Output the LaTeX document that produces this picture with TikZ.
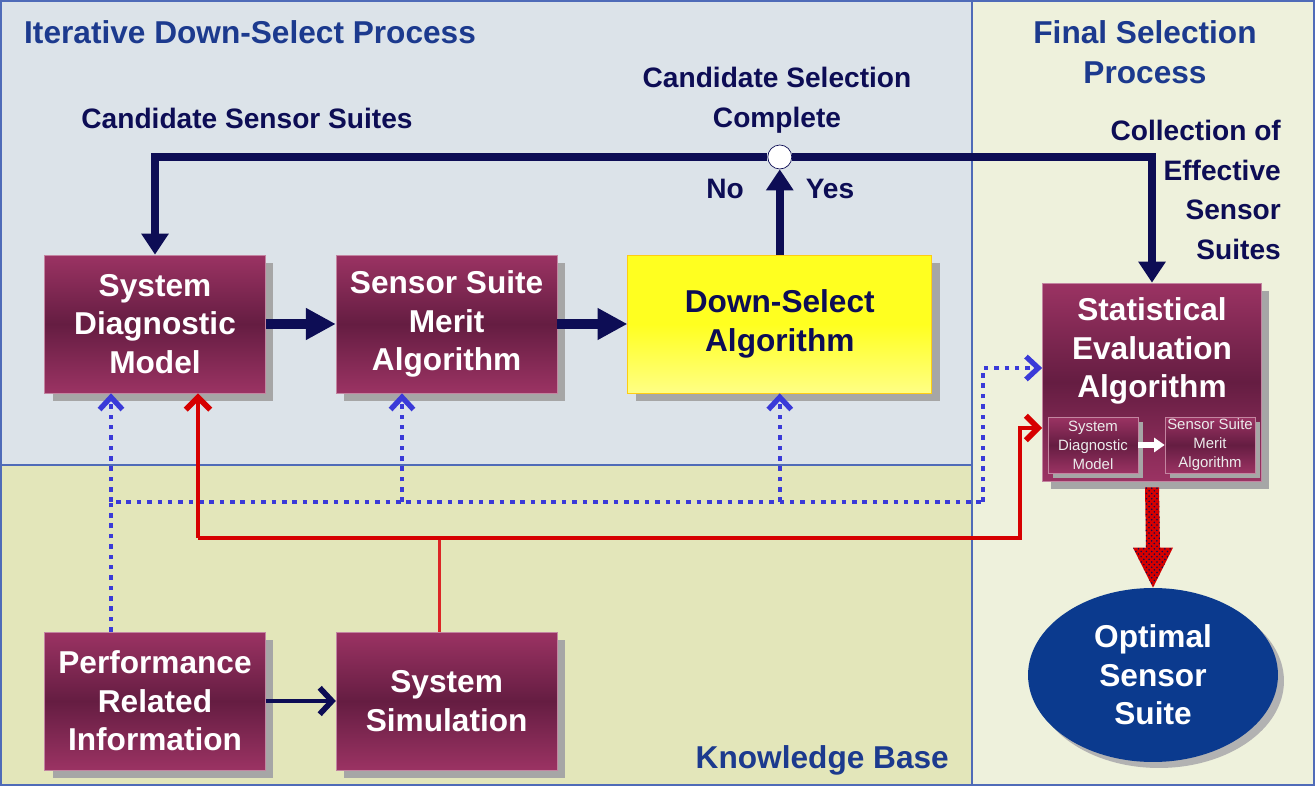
\documentclass[tikz,border=0pt]{standalone}
\usepackage{fontspec}
\setmainfont{Liberation Sans}
\usepackage{xcolor}
\usepackage{tikz}
\usetikzlibrary{shapes,arrows.meta,positioning,calc,shadows,patterns}

\definecolor{panelblue}{HTML}{DCE3E9}
\definecolor{panelolive}{HTML}{E3E6BA}
\definecolor{panelpale}{HTML}{EEF1DC}
\definecolor{framecol}{HTML}{4F6BB8}
\definecolor{navyink}{HTML}{0D0D55}
\definecolor{titleblue}{HTML}{1C3A8E}
\definecolor{plumlight}{HTML}{9B3363}
\definecolor{plumdark}{HTML}{651D42}
\definecolor{dotblue}{HTML}{3A3AD8}
\definecolor{linkred}{HTML}{D60000}
\definecolor{goalblue}{HTML}{0B3A8E}
\definecolor{gold}{HTML}{FFFF20}

\begin{document}
\begin{tikzpicture}[
    x=0.02cm, y=-0.02cm,
    node distance=1.4cm,
    block/.style={rectangle, draw=plumlight!60!white, thin, top color=plumlight, bottom color=plumlight, middle color=plumdark, minimum width=4.42cm, minimum height=2.76cm, text=white, align=center, font=\fontsize{18}{22}\selectfont\bfseries, drop shadow={shadow xshift=0.16cm, shadow yshift=-0.16cm, fill=gray!70, opacity=1}},
    goldblock/.style={block, draw=gold!60!orange, top color=gold, bottom color=gold!55!white, middle color=gold, minimum width=6.08cm, text=navyink},
    miniblock/.style={rectangle, draw=plumlight!60!white, thin, top color=plumlight, bottom color=plumlight, middle color=plumdark, minimum width=1.8cm, minimum height=1.12cm, inner sep=1pt, text=gray!15, align=center, font=\fontsize{8.5}{10.8}\selectfont, drop shadow={shadow xshift=0.1cm, shadow yshift=-0.1cm, fill=gray!70, opacity=1}},
    boxtext/.style={text=white, align=center, font=\fontsize{18}{22}\selectfont\bfseries},
    goal/.style={ellipse, fill=goalblue, minimum width=5cm, minimum height=3.48cm, text=white, align=center, font=\fontsize{18}{22}\selectfont\bfseries, drop shadow={shadow xshift=0.12cm, shadow yshift=-0.12cm, fill=gray!60, opacity=1}},
    junction/.style={circle, draw=navyink, fill=white, minimum size=0.48cm, inner sep=0pt},
    note/.style={text=navyink, align=center, font=\fontsize{16}{22.5}\selectfont\bfseries},
    heading/.style={text=titleblue, align=center, font=\fontsize{18}{22.5}\selectfont\bfseries},
    bus/.style={navyink, line width=4.5pt},
    busarrow/.style={bus, -{Triangle[width=15pt,length=12pt]}},
    fatarrow/.style={navyink, line width=5.7pt, -{Triangle[width=17pt,length=17pt]}},
    feed/.style={navyink, line width=2.8pt, -{Straight Barb[length=7pt,width=15pt,line width=3.2pt]}},
    dotline/.style={dotblue, line width=2.6pt, dash pattern=on 2.6pt off 3.3pt},
    dotarrow/.style={dotline, -{Straight Barb[length=7pt,width=13pt,line width=3pt]}},
    redline/.style={linkred, line width=2.8pt},
    redarrow/.style={redline, -{Straight Barb[length=7pt,width=14pt,line width=3.2pt]}},
    frame/.style={framecol, line width=0.8pt}
]

% panels
\useasboundingbox (0,0) rectangle (1315,786);
\fill[panelpale] (972,0) rectangle (1315,786);
\fill[panelblue] (0,0) rectangle (972,465);
\fill[panelolive] (0,465) rectangle (972,786);
\draw[frame] (972,0) -- (972,786);
\draw[frame] (0,465) -- (972,465);
\draw[frame] (1,1) rectangle (1314,785);

\node[heading, anchor=west] (titleloop) at (18,32) {Iterative Down-Select Process};
\node[heading] (titlefinal) at (1145,52) {Final Selection\\Process};
\node[heading, anchor=east] (titlekb) at (955,760) {Knowledge Base};

% loop blocks
\node[block] (sdm) at (155,324) {System\\Diagnostic\\Model};
\node[block, right=of sdm] (ssma) {Sensor Suite\\Merit\\Algorithm};
\node[goldblock, right=of ssma] (dsa) {Down-Select\\Algorithm};

% knowledge base
\node[block] (pri) at (155,701) {Performance\\Related\\Information};
\node[block, right=of pri] (sim) {System\\Simulation};

% final selection
\node[block, minimum width=4.38cm, minimum height=3.96cm] (stat) at (1152,382) {};
\node[boxtext] (stattitle) at (1152,351) {Statistical\\Evaluation\\Algorithm};
\node[miniblock] (minisdm) at (1093,445) {System\\Diagnostic\\Model};
\node[miniblock] (minissma) at (1210,445) {Sensor Suite\\Merit\\Algorithm};
\draw[white, line width=3pt, -{Triangle[width=8pt,length=6pt]}] (minisdm) -- (minissma);
\node[goal] (opt) at (1153,675) {Optimal\\Sensor\\Suite};

% decision
\node[junction] (dec) at (dsa.north |- 0,157) {};
\node[note] (complete) at (777,100) {Candidate Selection\\Complete};
\node[note] (cand) at (247,118) {Candidate Sensor Suites};
\node[note] (no) at (725,189) {No};
\node[note] (yes) at (830,189) {Yes};
\node[note, align=right, anchor=east] (collect) at (1287,190) {Collection of\\Effective\\Sensor\\Suites};

\draw[busarrow] (dec.west) -| (sdm.north);
\draw[busarrow] (dec.east) -| (stat.north);
\draw[busarrow] (dsa.north) -- (dec.south);
\draw[fatarrow] (sdm) -- (ssma);
\draw[fatarrow] (ssma) -- (dsa);
\draw[feed] (pri) -- (sim);

% knowledge links
\coordinate (dotL) at (111,502);
\coordinate (dotM) at (402,502);
\coordinate (dotR) at (983,502);
\draw[dotline] (dotL |- pri.north) -- (dotL) -- (dotR);
\draw[dotarrow] (dotL) -- (dotL |- sdm.south);
\draw[dotarrow] (dotM) -- (dotM |- ssma.south);
\draw[dotarrow] (dsa.south |- dotL) -- (dsa.south);
\draw[dotarrow] (dotR) |- ([yshift=0.28cm]stat.west);

\coordinate (redL) at (198,538);
\coordinate (redR) at (1020,538);
\draw[linkred!85!white, line width=2pt] ([xshift=-0.14cm]sim.north) -- ([xshift=-0.14cm]sim.north |- redL);
\draw[redarrow] (redL) -- (redL |- sdm.south);
\draw[redarrow] (redL) -- (redR) |- ([yshift=-0.92cm]stat.west);

% refinement arrow
\fill[linkred, postaction={pattern=crosshatch dots, pattern color=navyink}]
    ($(stat.south)+(-7,6)$) -- ($(stat.south)+(7,6)$) -- ($(opt.north)+(7,-40)$) -- ($(opt.north)+(20,-40)$)
    -- (opt.north) -- ($(opt.north)+(-20,-40)$) -- ($(opt.north)+(-7,-40)$) -- cycle;

\end{tikzpicture}
\end{document}
